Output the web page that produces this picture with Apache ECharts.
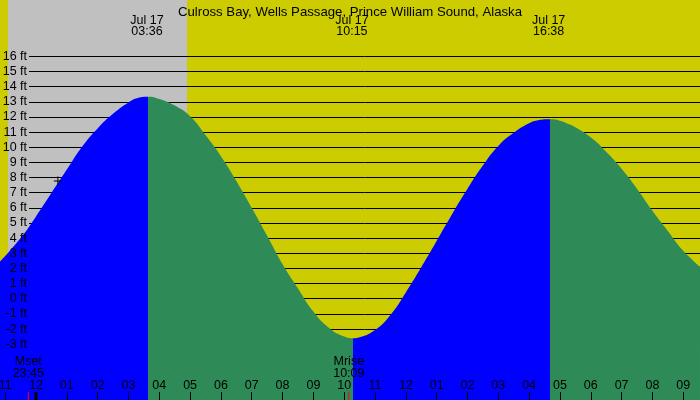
<!DOCTYPE html>
<html>
<head>
<meta charset="utf-8">
<script src="https://cdn.jsdelivr.net/npm/echarts@6/dist/echarts.min.js"></script>
<style>
  html, body { margin: 0; padding: 0; }
  #chart { width: 700px; height: 400px; }
</style>
</head>
<body>
<div id="chart"></div>
<script>
// tide readings, hours from Jul 17 00:00 -> feet
var tideT = [-1.168, -0.5, 0, 0.5, 1, 1.5, 2, 2.5, 3, 3.3, 3.64,
  4, 4.5, 5, 5.5, 6, 6.5, 7, 7.5, 8, 8.5, 9, 9.5, 10, 10.3,
  10.5, 11, 11.5, 12, 12.5, 13, 13.5, 14, 14.5, 15, 15.5, 16, 16.3, 16.67,
  17, 17.3, 17.5, 18, 18.5, 19, 19.5, 20, 20.5, 21, 21.544];
var tideFt = [2.44, 4.0, 5.43, 6.97, 8.52, 10.05, 11.24, 12.2, 12.95, 13.25, 13.33,
  13.18, 12.75, 12.05, 10.8, 9.4, 7.77, 6.0, 4.15, 2.28, 0.68, -0.85, -1.92, -2.5, -2.61,
  -2.55, -2.07, -1.08, 0.41, 2.07, 3.81, 5.57, 7.25, 8.79, 10.08, 10.95, 11.58, 11.78, 11.84,
  11.75, 11.51, 11.31, 10.65, 9.7, 8.58, 7.26, 5.8, 4.47, 3.16, 2.11];

// high / low tides
var turnT = [3.64, 10.3, 16.67];
var extremeT = [3.6, 10.25, 16.633];
var extremeLabels = ['03:36', '10:15', '16:38'];

// sun and moon
var sunsetT = -0.91;
var sunriseT = 4.9;
var moonT = [-0.25, 10.15];
var moonNames = ['Mset', 'Mrise'];
var moonLabels = ['23:45', '10:09'];
var midnightT = [0];
var crossPoint = [[0.71, 7.77]];

var ftMin = -3, ftMax = 16;

var FONT = 'Liberation Sans, Arial, sans-serif';
var BLUE = '#0000ff', GREEN = '#2e8b57';

function hourLabel(v) {
  var h = ((v % 12) + 12) % 12;
  if (h == 0) h = 12;
  return h < 10 ? '0' + h : '' + h;
}

var pieces = [];
var prev = -5;
for (var i = 0; i <= turnT.length; i++) {
  var next = i < turnT.length ? turnT[i] : 25;
  pieces.push({ gte: prev, lt: next, color: i % 2 == 0 ? BLUE : GREEN });
  prev = next;
}

var chart = echarts.init(document.getElementById('chart'));

var option = {
  animation: false,
  backgroundColor: '#cccc00',
  title: {
    text: 'Culross Bay, Wells Passage, Prince William Sound, Alaska',
    left: 'center',
    top: 1,
    textStyle: { fontFamily: FONT, fontSize: 13.2, fontWeight: 'normal', color: '#000' }
  },
  grid: [
    // data grid, stretched past the edges so one hour is ~30.8px
    { left: -25.64, right: -14.04, top: 0, bottom: 0, outerBoundsMode: 'none', containLabel: false },
    // ft lines
    { left: 29, right: 0, top: 56.3, bottom: 55.8, outerBoundsMode: 'none', containLabel: false }
  ],
  xAxis: [
    {
      type: 'value', gridIndex: 0, min: -2, max: 22, interval: 1, z: 10, position: 'bottom',
      axisLine: { show: false, onZero: false },
      splitLine: { show: false },
      axisTick: { inside: true, length: 8, lineStyle: { color: '#000' } },
      axisLabel: { inside: true, margin: 8, color: '#000', fontFamily: FONT, fontSize: 12.5, formatter: hourLabel }
    },
    { type: 'value', gridIndex: 1, min: 0, max: 1, show: false }
  ],
  yAxis: [
    { type: 'value', gridIndex: 0, min: -6.686, max: 19.716, show: false },
    {
      type: 'value', gridIndex: 1, min: ftMin, max: ftMax, interval: 1, z: 2, position: 'left',
      axisLine: { show: false }, axisTick: { show: false }, axisLabel: { show: false },
      splitLine: { lineStyle: { color: '#000', width: 1 } }
    },
    {
      type: 'value', gridIndex: 1, min: ftMin, max: ftMax, interval: 1, z: 10, position: 'left',
      axisLine: { show: false }, axisTick: { show: false }, splitLine: { show: false },
      axisLabel: { margin: 2, color: '#000', fontFamily: FONT, fontSize: 12.5, formatter: '{value} ft' }
    }
  ],
  visualMap: {
    type: 'piecewise', show: false, dimension: 0, seriesIndex: 1,
    pieces: pieces
  },
  series: [
    {
      // night
      type: 'custom', xAxisIndex: 0, yAxisIndex: 0, z: 1, silent: true,
      encode: { x: [0, 1] },
      data: [[sunsetT, sunriseT]],
      renderItem: function (params, api) {
        var x0 = api.coord([api.value(0), 0])[0];
        var x1 = api.coord([api.value(1), 0])[0];
        return { type: 'rect', shape: { x: x0, y: 0, width: x1 - x0, height: 400 }, style: { fill: '#c0c0c0' } };
      }
    },
    {
      type: 'line', xAxisIndex: 0, yAxisIndex: 0, z: 3,
      smooth: 0.5, symbol: 'none', silent: true,
      lineStyle: { width: 0 },
      areaStyle: { opacity: 1, origin: 'start' },
      data: tideT.map(function (t, i) { return [t, tideFt[i]]; })
    },
    {
      // high/low labels at top
      type: 'custom', xAxisIndex: 0, yAxisIndex: 0, z: 11, silent: true,
      data: extremeT.map(function (t) { return [t]; }),
      renderItem: function (params, api) {
        var x = api.coord([api.value(0), 0])[0];
        return {
          type: 'text',
          style: {
            text: 'Jul 17\n' + extremeLabels[params.dataIndex], x: x, y: 26,
            align: 'center', verticalAlign: 'middle', lineHeight: 11.5,
            font: '12.5px ' + FONT, fill: '#000'
          }
        };
      }
    },
    {
      // moon rise/set
      type: 'custom', xAxisIndex: 0, yAxisIndex: 0, z: 11, silent: true,
      data: moonT.map(function (t) { return [t]; }),
      renderItem: function (params, api) {
        var i = params.dataIndex;
        var x = api.coord([api.value(0), 0])[0];
        return {
          type: 'group',
          children: [
            { type: 'line', shape: { x1: x, y1: 392, x2: x, y2: 400 }, style: { stroke: '#ff0000', lineWidth: 1 } },
            {
              type: 'text',
              style: {
                text: moonNames[i] + '\n' + moonLabels[i], x: x, y: 367.5,
                align: 'center', verticalAlign: 'middle', lineHeight: 11.8,
                font: '12.5px ' + FONT, fill: '#000'
              }
            }
          ]
        };
      }
    },
    {
      // midnight tick
      type: 'custom', xAxisIndex: 0, yAxisIndex: 0, z: 11, silent: true,
      data: midnightT.map(function (t) { return [t]; }),
      renderItem: function (params, api) {
        var x = api.coord([api.value(0), 0])[0];
        return { type: 'rect', shape: { x: x - 1.5, y: 392, width: 3, height: 8 }, style: { fill: '#000' } };
      }
    },
    {
      type: 'custom', xAxisIndex: 0, yAxisIndex: 0, z: 11, silent: true,
      data: crossPoint,
      renderItem: function (params, api) {
        var p = api.coord([api.value(0), api.value(1)]);
        return {
          type: 'group',
          children: [
            { type: 'line', shape: { x1: p[0] - 4, y1: p[1], x2: p[0] + 4, y2: p[1] }, style: { stroke: '#000', lineWidth: 1 } },
            { type: 'line', shape: { x1: p[0], y1: p[1] - 4.5, x2: p[0], y2: p[1] + 4.5 }, style: { stroke: '#000', lineWidth: 1 } }
          ]
        };
      }
    }
  ]
};

chart.setOption(option);
</script>
</body>
</html>
